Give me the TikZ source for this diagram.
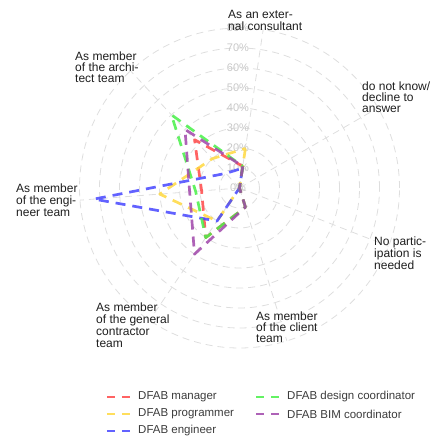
\documentclass[tikz,border=0pt]{standalone}
\usepackage{fontspec}
\setmainfont{Liberation Sans}
\definecolor{gridgray}{RGB}{222,222,222}
\definecolor{pctgray}{RGB}{200,200,200}
\definecolor{labelgray}{RGB}{30,30,30}
\definecolor{legendgray}{RGB}{60,60,60}
\definecolor{mgrred}{RGB}{255,72,72}
\definecolor{progyellow}{RGB}{255,216,64}
\definecolor{engblue}{RGB}{70,70,255}
\definecolor{desgreen}{RGB}{72,240,72}
\definecolor{bimpurple}{RGB}{160,70,170}
\tikzset{
  gridline/.style={draw=gridgray, line width=0.8pt, dash pattern=on 7pt off 5pt},
  series/.style={line width=2.7pt, dash pattern=on 10pt off 7pt, opacity=0.85, line join=round},
  axislabel/.style={anchor=north west, inner sep=0pt, align=left, text=labelgray, font=\fontsize{12}{12}\selectfont},
  pctlabel/.style={inner sep=0pt, text=pctgray, font=\fontsize{11}{11}\selectfont},
  legendtext/.style={anchor=west, inner sep=0pt, text=legendgray, font=\fontsize{11.5}{12}\selectfont},
}
% one closed polygon over the seven axes
\newcommand\radarseries[3]{%
  \foreach \v [count=\k from 0] in {#3}
    \coordinate (#1\k) at ({81.5-\k*360/7}:{2*\v});
  \draw[series, #2] (#10) -- (#11) -- (#12) -- (#13) -- (#14) -- (#15) -- (#16) -- cycle;}
\begin{document}
\begin{tikzpicture}[x=1pt,y=1pt]
\useasboundingbox (-239.5,-250) rectangle (195.5,188);
%%%%%%%%%%%%%
\coordinate (centre) at (0,0);
\foreach \r in {20,40,...,160}
  \draw[gridline] (centre) circle (\r);
\foreach \k in {0,...,6}
  \draw[gridline] (centre) -- ({81.5-\k*360/7}:160);
\foreach \p in {0,10,...,80}
  \node[pctlabel] (pct\p) at (-1.5,2*\p) {\p\%};
%%%%%%%%%%%%%
\node[axislabel] (external) at (-11.5,178) {As an exter-\\nal consultant};
\node[axislabel, font=\fontsize{12}{11}\selectfont] (dontknow) at (122.5,106) {do not know/\\decline to\\answer};
\node[axislabel] (noneed) at (134.5,-49) {No partic-\\ipation is\\needed};
\node[axislabel, font=\fontsize{12}{11}\selectfont] (client) at (16.5,-124) {As member\\of the client\\team};
\node[axislabel] (contractor) at (-143.5,-115) {As member\\of the general\\contractor\\team};
\node[axislabel] (engineer) at (-223.5,4) {As member\\of the engi-\\neer team};
\node[axislabel, font=\fontsize{12}{11}\selectfont] (architect) at (-164.5,136) {As member\\of the archi-\\tect team};
%%%%%%%%%%%%%
\radarseries{mgr}{mgrred}{11,0,0,10,30,19,33}
\radarseries{prog}{progyellow}{20,0,0,0,20,40,20}
\radarseries{eng}{engblue}{10,0,0,0,20,73,10}
\radarseries{des}{desgreen}{11,0,0,10,30,22,50}
\radarseries{bim}{bimpurple}{11,0,0,10,40,25,40}
%%%%%%%%%%%%%
\node[legendtext] (legmgr) at (-101.5,-209) {DFAB manager};
\node[legendtext] (legprog) at (-101.5,-226) {DFAB programmer};
\node[legendtext] (legeng) at (-101.5,-243) {DFAB engineer};
\node[legendtext] (legdes) at (47.5,-209) {DFAB design coordinator};
\node[legendtext] (legbim) at (47.5,-226) {DFAB BIM coordinator};
\foreach \n/\c in {legmgr/mgrred, legprog/progyellow, legeng/engblue, legdes/desgreen, legbim/bimpurple}
  \draw[series, \c, dash pattern=on 8pt off 7pt] ([xshift=-31pt]\n.west) -- ([xshift=-8pt]\n.west);
\end{tikzpicture}
\end{document}
